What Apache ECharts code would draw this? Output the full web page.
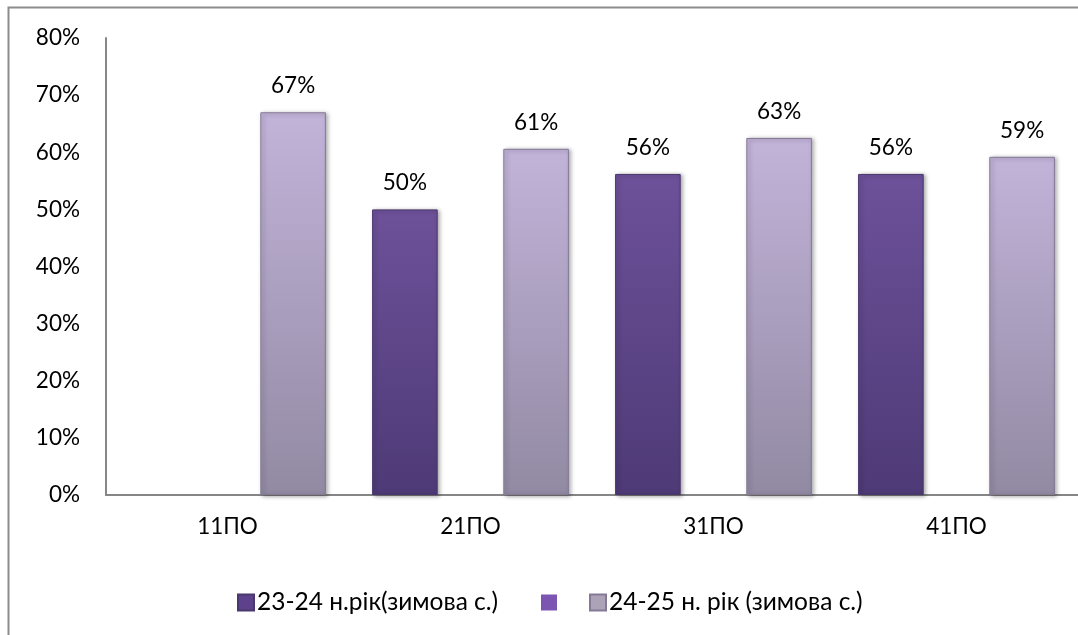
<!DOCTYPE html>
<html>
<head>
<meta charset="utf-8">
<script src="https://cdn.jsdelivr.net/npm/echarts@6/dist/echarts.min.js"></script>
<style>html,body{margin:0;padding:0;background:#fff;}#c{width:1078px;height:635px;}</style>
</head>
<body>
<div id="c"></div>
<script>
const categories = ['11ПО', '21ПО', '31ПО', '41ПО'];
const seriesNames = ['23-24 н.рік(зимова с.)', ' ', '24-25 н. рік (зимова с.)'];
const values2324 = [null, 50, 56.2, 56.2];
const valuesBlank = [null, null, null, null];
const values2425 = [67, 60.6, 62.5, 59.2];
const yMin = 0, yMax = 80, yStep = 10;

const FONT = 'Lato';
function grad(top, bottom) {
  return new echarts.graphic.LinearGradient(0, 0, 0, 1, [
    {offset: 0, color: top}, {offset: 1, color: bottom}
  ]);
}
const labelCfg = {
  show: true, position: 'top', distance: 15,
  color: '#000', fontFamily: FONT, fontSize: 22.5,
  formatter: p => p.value == null ? '' : Math.round(p.value) + '%'
};
const shadow = {shadowBlur: 4, shadowOffsetX: 2, shadowOffsetY: 1, shadowColor: 'rgba(0,0,0,0.35)'};
const legendBase = {
  top: 585, icon: 'rect', itemWidth: 16, itemHeight: 16, itemGap: 0,
  textStyle: {fontFamily: FONT, fontSize: 24.5, color: '#000', padding: [0, 0, 0, -2]}
};
const legendColors = ['#5d418b', '#7c55b2', '#aca3b9'];

const chart = echarts.init(document.getElementById('c'), null, {renderer: 'canvas'});
chart.setOption({
  animation: false,
  backgroundColor: '#fff',
  graphic: [{
    type: 'rect', left: 6, top: 5, z: -10,
    shape: {width: 1200, height: 700},
    style: {fill: 'none', stroke: '#8c8c8c', lineWidth: 2}
  }],
  grid: {left: 106, top: 38, width: 980, bottom: 140, containLabel: false},
  legend: [
    Object.assign({}, legendBase, {left: 232, data: [{name: seriesNames[0], itemStyle: {color: legendColors[0]}}]}),
    Object.assign({}, legendBase, {left: 536, data: [{name: seriesNames[1], itemStyle: {color: legendColors[1]}}]}),
    Object.assign({}, legendBase, {left: 584, data: [{name: seriesNames[2], itemStyle: {color: legendColors[2]}}]})
  ],
  xAxis: {
    type: 'category', data: categories,
    axisLine: {lineStyle: {color: '#868686', width: 2}},
    axisTick: {show: false},
    axisLabel: {color: '#000', fontFamily: FONT, fontSize: 22.5, margin: 20}
  },
  yAxis: {
    type: 'value', min: yMin, max: yMax, interval: yStep,
    axisLine: {show: true, lineStyle: {color: '#868686', width: 2}},
    axisTick: {show: false},
    splitLine: {show: false},
    axisLabel: {color: '#000', fontFamily: FONT, fontSize: 22.5, margin: 26, formatter: v => v + '%'}
  },
  series: [
    {
      name: seriesNames[0], type: 'bar', data: values2324,
      barGap: '0%', barCategoryGap: '19%',
      itemStyle: Object.assign({color: grad('#6d519a', '#4e3a76'), borderColor: '#4a376f', borderWidth: 1}, shadow),
      label: labelCfg
    },
    {
      name: seriesNames[1], type: 'bar', data: valuesBlank,
      barGap: '0%', barCategoryGap: '19%',
      itemStyle: {color: legendColors[1]}
    },
    {
      name: seriesNames[2], type: 'bar', data: values2425,
      barGap: '0%', barCategoryGap: '19%',
      itemStyle: Object.assign({color: grad('#c2b3d9', '#928aa3'), borderColor: '#857a96', borderWidth: 1}, shadow),
      label: labelCfg
    }
  ]
});
</script>
</body>
</html>
